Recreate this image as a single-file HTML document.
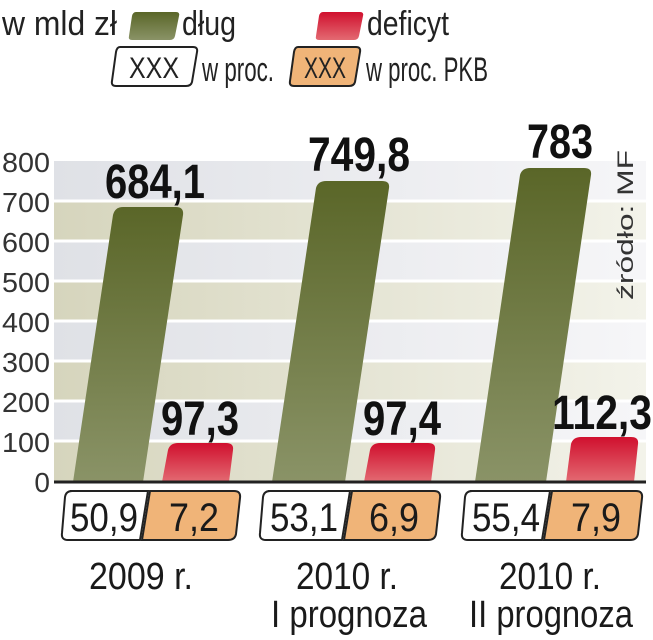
<!DOCTYPE html>
<html><head><meta charset="utf-8"><style>
html,body{margin:0;padding:0;background:#fff;}
svg{display:block;}
text{font-family:"Liberation Sans Narrow","Liberation Sans",sans-serif;}
</style></head><body>
<svg width="653" height="640" viewBox="0 0 653 640" xmlns="http://www.w3.org/2000/svg">
<defs>
<linearGradient id="bA" x1="0" x2="1" y1="0" y2="0"><stop offset="0" stop-color="#dfe1e6"/><stop offset="1" stop-color="#f6f6f8"/></linearGradient>
<linearGradient id="bB" x1="0" x2="1" y1="0" y2="0"><stop offset="0" stop-color="#d6d5bd"/><stop offset="1" stop-color="#f3f3ea"/></linearGradient>
<linearGradient id="gG" x1="0" x2="0" y1="0" y2="1"><stop offset="0" stop-color="#5a6628"/><stop offset="1" stop-color="#8a9367"/></linearGradient>
<linearGradient id="gR" x1="0" x2="0" y1="0" y2="1"><stop offset="0" stop-color="#d0102e"/><stop offset="1" stop-color="#e36a72"/></linearGradient>
</defs>
<!-- legend -->
<text x="2" y="35" font-size="34" fill="#222" textLength="115" lengthAdjust="spacingAndGlyphs">w mld zł</text>
<path d="M136 12 H176 Q180 12 179 16 L175 36 Q174 40 170 40 H132 Q128 40 129 36 L132 16 Q133 12 136 12Z" fill="url(#gG)"/>
<text x="182" y="35" font-size="34" fill="#222" textLength="54" lengthAdjust="spacingAndGlyphs">dług</text>
<path d="M323 12 H360 Q364 12 363 16 L359 36 Q358 40 354 40 H319 Q315 40 316 36 L319 16 Q320 12 323 12Z" fill="url(#gR)"/>
<text x="367" y="35" font-size="34" fill="#222" textLength="82" lengthAdjust="spacingAndGlyphs">deficyt</text>
<path d="M120 47 H193 Q198 47 197 52 L192 82 Q191 86 186 86 H116 Q111 86 112 81 L116 52 Q117 47 120 47Z" fill="#fff" stroke="#222" stroke-width="2"/>
<text x="154" y="78" font-size="30" fill="#222" text-anchor="middle" textLength="50" lengthAdjust="spacingAndGlyphs">XXX</text>
<text x="202" y="81" font-size="34" fill="#222" textLength="72" lengthAdjust="spacingAndGlyphs">w proc.</text>
<path d="M298 47 H356 Q361 47 360 52 L355 82 Q354 86 349 86 H294 Q289 86 290 81 L294 52 Q295 47 298 47Z" fill="#f0b478" stroke="#222" stroke-width="2"/>
<text x="325" y="78" font-size="30" fill="#222" text-anchor="middle" textLength="42" lengthAdjust="spacingAndGlyphs">XXX</text>
<text x="366" y="81" font-size="34" fill="#222" textLength="122" lengthAdjust="spacingAndGlyphs">w proc. PKB</text>
<!-- bands -->
<rect x="54" y="161" width="592" height="40" fill="url(#bA)"/>
<rect x="54" y="201" width="592" height="40" fill="url(#bB)"/>
<rect x="54" y="241" width="592" height="40" fill="url(#bA)"/>
<rect x="54" y="281" width="592" height="40" fill="url(#bB)"/>
<rect x="54" y="321" width="592" height="40" fill="url(#bA)"/>
<rect x="54" y="361" width="592" height="40" fill="url(#bB)"/>
<rect x="54" y="401" width="592" height="40" fill="url(#bA)"/>
<rect x="54" y="441" width="592" height="40" fill="url(#bB)"/>
<g stroke="#fff" stroke-width="3">
<line x1="54" x2="646" y1="201" y2="201"/><line x1="54" x2="646" y1="241" y2="241"/>
<line x1="54" x2="646" y1="281" y2="281"/><line x1="54" x2="646" y1="321" y2="321"/>
<line x1="54" x2="646" y1="361" y2="361"/><line x1="54" x2="646" y1="401" y2="401"/>
<line x1="54" x2="646" y1="441" y2="441"/>
</g>
<!-- y labels -->
<g font-size="28" fill="#333" text-anchor="end">
<text x="50" y="172" textLength="48" lengthAdjust="spacingAndGlyphs">800</text>
<text x="50" y="212" textLength="48" lengthAdjust="spacingAndGlyphs">700</text>
<text x="50" y="252" textLength="48" lengthAdjust="spacingAndGlyphs">600</text>
<text x="50" y="292" textLength="48" lengthAdjust="spacingAndGlyphs">500</text>
<text x="50" y="332" textLength="48" lengthAdjust="spacingAndGlyphs">400</text>
<text x="50" y="372" textLength="48" lengthAdjust="spacingAndGlyphs">300</text>
<text x="50" y="412" textLength="48" lengthAdjust="spacingAndGlyphs">200</text>
<text x="50" y="452" textLength="48" lengthAdjust="spacingAndGlyphs">100</text>
<text x="50" y="492">0</text>
</g>
<!-- bars -->
<path d="M73 482 L113 215 Q115 207 123 207 H176 Q184 207 183 215 L143 482Z" fill="url(#gG)"/>
<path d="M272 482 L316 188 Q318 181 326 181 H382 Q390 181 389 188 L345 482Z" fill="url(#gG)"/>
<path d="M475 482 L520 175 Q522 168 530 168 H584 Q592 168 591 175 L546 482Z" fill="url(#gG)"/>
<path d="M162 482 L168 450 Q170 443 178 443 H226 Q234 443 233 450 L229 482Z" fill="url(#gR)"/>
<path d="M364 482 L370 450 Q372 443 380 443 H428 Q436 443 435 450 L431 482Z" fill="url(#gR)"/>
<path d="M566 482 L571 444 Q573 437 581 437 H631 Q639 437 638 444 L634 482Z" fill="url(#gR)"/>
<line x1="54" x2="646" y1="482" y2="482" stroke="#222" stroke-width="3"/>
<!-- value labels -->
<g font-size="48" font-weight="bold" fill="#111" text-anchor="middle">
<text x="155" y="198" textLength="100" lengthAdjust="spacingAndGlyphs">684,1</text>
<text x="359" y="171" textLength="102" lengthAdjust="spacingAndGlyphs">749,8</text>
<text x="560" y="158" textLength="66" lengthAdjust="spacingAndGlyphs">783</text>
<text x="200" y="435" textLength="78" lengthAdjust="spacingAndGlyphs">97,3</text>
<text x="402" y="435" textLength="78" lengthAdjust="spacingAndGlyphs">97,4</text>
<text x="602" y="429" textLength="100" lengthAdjust="spacingAndGlyphs">112,3</text>
</g>
<text transform="translate(633,300) rotate(-90)" font-size="22" fill="#333" textLength="150" lengthAdjust="spacingAndGlyphs">źródło: MF</text>
<!-- bottom boxes -->
<g stroke="#222" stroke-width="2">
<path d="M70 491 H148 L140 540 H68 Q61 540 62 533 L65 497 Q66 491 72 491Z" fill="#fff"/>
<path d="M156 491 H234 Q241 491 240 498 L236 534 Q235 540 228 540 H142 L150 491Z" fill="#f0b478"/>
<path d="M268 491 H350 L342 540 H266 Q259 540 260 533 L263 497 Q264 491 270 491Z" fill="#fff"/>
<path d="M358 491 H434 Q441 491 440 498 L436 534 Q435 540 428 540 H344 L352 491Z" fill="#f0b478"/>
<path d="M470 491 H550 L542 540 H468 Q461 540 462 533 L465 497 Q466 491 472 491Z" fill="#fff"/>
<path d="M558 491 H636 Q643 491 642 498 L638 534 Q637 540 630 540 H544 L552 491Z" fill="#f0b478"/>
</g>
<g font-size="40" fill="#1a1a1a" text-anchor="middle">
<text x="104" y="531" textLength="68" lengthAdjust="spacingAndGlyphs">50,9</text>
<text x="194" y="531" textLength="50" lengthAdjust="spacingAndGlyphs">7,2</text>
<text x="304" y="531" textLength="68" lengthAdjust="spacingAndGlyphs">53,1</text>
<text x="394" y="531" textLength="50" lengthAdjust="spacingAndGlyphs">6,9</text>
<text x="506" y="531" textLength="68" lengthAdjust="spacingAndGlyphs">55,4</text>
<text x="596" y="531" textLength="50" lengthAdjust="spacingAndGlyphs">7,9</text>
</g>
<g font-size="38" fill="#1a1a1a" text-anchor="middle">
<text x="141" y="589" textLength="104" lengthAdjust="spacingAndGlyphs">2009 r.</text>
<text x="347" y="589" textLength="102" lengthAdjust="spacingAndGlyphs">2010 r.</text>
<text x="550" y="589" textLength="102" lengthAdjust="spacingAndGlyphs">2010 r.</text>
<text x="349" y="627" textLength="156" lengthAdjust="spacingAndGlyphs">I prognoza</text>
<text x="551" y="627" textLength="164" lengthAdjust="spacingAndGlyphs">II prognoza</text>
</g>
</svg>
</body></html>
